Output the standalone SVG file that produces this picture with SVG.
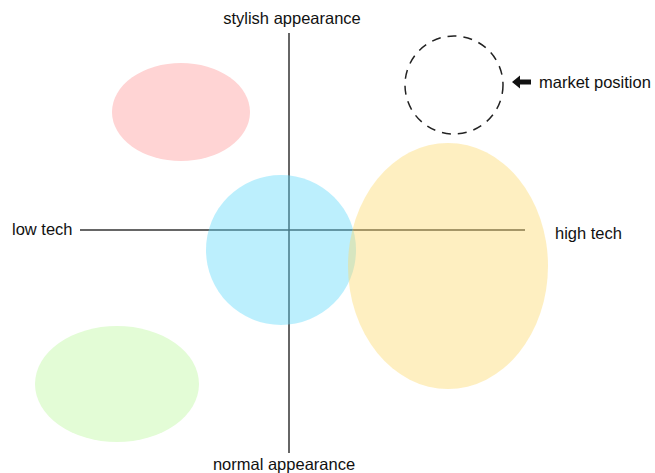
<svg xmlns="http://www.w3.org/2000/svg" width="655" height="473" viewBox="0 0 655 473">
  <style>
    .lbl { font-family: "Liberation Sans", Arial, sans-serif; font-size: 16.5px; fill: #111; }
    .axis { stroke: #333; stroke-width: 1.5; fill: none; }
    .blob { opacity: 0.42; }
  </style>
  <rect width="655" height="473" fill="#fff"/>

  <g id="connectors">
    <line class="axis" x1="289" y1="33" x2="289" y2="453"/>
    <line class="axis" x1="80" y1="230" x2="525" y2="230"/>
  </g>

  <g id="segment-pink">
    <ellipse cx="181" cy="112" rx="69" ry="49" fill="#ffd4d4"/>
  </g>
  <g id="segment-green">
    <ellipse cx="117" cy="384" rx="82" ry="58" fill="#e3fcd6"/>
  </g>
  <g id="segment-blue">
    <circle class="blob" cx="281" cy="250" r="75" fill="#5fd8fb"/>
  </g>
  <g id="segment-yellow">
    <ellipse class="blob" cx="448" cy="266" rx="100" ry="123" fill="#fcd96b"/>
  </g>

  <g id="market-position">
    <circle cx="454" cy="85" r="49" fill="none" stroke="#222" stroke-width="1.5" stroke-dasharray="9,7"/>
    <!-- block arrow pointing left at the dashed circle -->
    <path d="M512,82 L520,75.5 L520,79.5 L531,79.5 L531,84.5 L520,84.5 L520,88.5 Z" fill="#111"/>
    <text class="lbl" x="539" y="88">market position</text>
  </g>

  <g id="axis-labels">
    <text class="lbl" x="292" y="24" text-anchor="middle">stylish appearance</text>
    <text class="lbl" x="284" y="470" text-anchor="middle">normal appearance</text>
    <text class="lbl" x="12" y="235">low tech</text>
    <text class="lbl" x="555" y="239">high tech</text>
  </g>
</svg>
